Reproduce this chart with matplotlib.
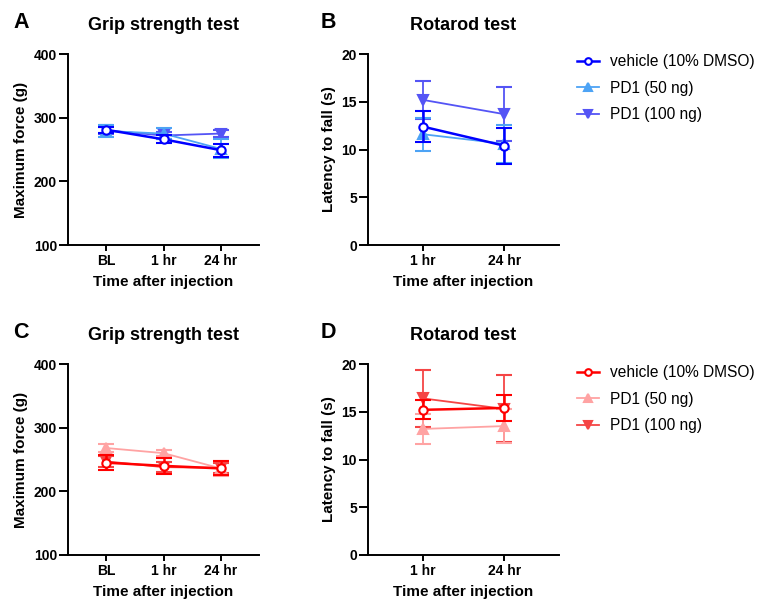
import numpy as np
import matplotlib
matplotlib.use("Agg")
import matplotlib.pyplot as plt

plt.rcParams['font.family'] = ['Liberation Sans', 'DejaVu Sans']

# categories
grip_times = ['BL', '1 hr', '24 hr']
rota_times = ['1 hr', '24 hr']
group_names = ['vehicle (10% DMSO)', 'PD1 (50 ng)', 'PD1 (100 ng)']

# panel A - grip strength (blue)
grip_blue_mean = [[281, 266, 249], [279, 275, 251], [280, 272, 275]]
grip_blue_err = [[5, 6, 10], [9, 9, 15], [5, 5, 6]]

# panel B - rotarod (blue)
rota_blue_mean = [[12.4, 10.4], [11.6, 10.6], [15.2, 13.7]]
rota_blue_err = [[1.65, 1.9], [1.75, 2.0], [2.0, 2.8]]

# panel C - grip strength (red)
grip_red_mean = [[245, 240, 236], [268, 260, 236], [247, 238, 237]]
grip_red_err = [[12, 12, 11], [7, 5, 12], [8, 8, 8]]

# panel D - rotarod (red)
rota_red_mean = [[15.2, 15.4], [13.2, 13.5], [16.4, 15.3]]
rota_red_err = [[1.0, 1.35], [1.6, 1.8], [3.0, 3.5]]

blues = ['#0000FF', '#4DA3F5', '#5454F5']
reds = ['#FF0000', '#FFA3A3', '#F54545']
markers = ['o', '^', 'v']

W, H = 757, 606
fig = plt.figure(figsize=(W / 100, H / 100), dpi=100)


def px_axes(left, top, right, bottom):
    return fig.add_axes([left / W, 1 - bottom / H, (right - left) / W, (bottom - top) / H])


def draw_panel(ax, cats, means, errs, colors, ylim, yticks, title, ylabel, legend_top=None):
    x = np.arange(len(cats))
    handles = [None] * 3
    for i in [2, 1, 0]:
        lw = 1.8 if i == 0 else 1.3
        mfc = 'white' if i == 0 else colors[i]
        ms = 6 if i == 0 else 6.5
        h = ax.errorbar(x, means[i], yerr=errs[i], color=colors[i], marker=markers[i],
                        markersize=ms, markerfacecolor=mfc, markeredgecolor=colors[i],
                        markeredgewidth=1.5, linewidth=lw, elinewidth=lw, capsize=5.5,
                        capthick=lw, zorder=3 + (2 - i), clip_on=False)
        handles[i] = h[0]
    ax.set_xlim(-0.67, len(cats) - 1 + 0.67)
    ax.set_ylim(*ylim)
    ax.set_yticks(yticks)
    ax.set_xticks(x)
    ax.set_xticklabels(cats)
    ax.spines['top'].set_visible(False)
    ax.spines['right'].set_visible(False)
    for s in ['left', 'bottom']:
        ax.spines[s].set_linewidth(1.4)
    ax.tick_params(axis='y', length=6.5, width=1.4, pad=1.5, labelsize=10)
    ax.tick_params(axis='x', length=4.5, width=1.4, pad=2, labelsize=10)
    for lab in ax.get_xticklabels() + ax.get_yticklabels():
        lab.set_fontweight('bold')
    ax.set_title(title, fontsize=13, fontweight='bold', pad=17)
    ax.set_ylabel(ylabel, fontsize=11, fontweight='bold', labelpad=4)
    ax.set_xlabel('Time after injection', fontsize=11, fontweight='bold', labelpad=5)
    if legend_top is not None:
        ax.legend(handles, group_names, loc='upper left',
                  bbox_to_anchor=(577 / W, 1 - legend_top / H),
                  bbox_transform=fig.transFigure, frameon=False, fontsize=11.2, borderpad=0,
                  borderaxespad=0, handlelength=1.4, handletextpad=0.75, labelspacing=0.74,
                  markerscale=0.8)


axA = px_axes(68, 54, 259, 245)
axB = px_axes(368, 54, 559, 245)
axC = px_axes(68, 364, 259, 555)
axD = px_axes(368, 364, 559, 555)

draw_panel(axA, grip_times, grip_blue_mean, grip_blue_err, blues, (100, 400),
           [100, 200, 300, 400], 'Grip strength test', 'Maximum force (g)')
draw_panel(axB, rota_times, rota_blue_mean, rota_blue_err, blues, (0, 20),
           [0, 5, 10, 15, 20], 'Rotarod test', 'Latency to fall (s)', legend_top=54)
draw_panel(axC, grip_times, grip_red_mean, grip_red_err, reds, (100, 400),
           [100, 200, 300, 400], 'Grip strength test', 'Maximum force (g)')
draw_panel(axD, rota_times, rota_red_mean, rota_red_err, reds, (0, 20),
           [0, 5, 10, 15, 20], 'Rotarod test', 'Latency to fall (s)', legend_top=365)

for letter, (lx, ly) in zip('ABCD', [(13, 28), (321, 28), (13, 338), (321, 338)]):
    fig.text(lx / W, 1 - ly / H, letter, fontsize=15.5, fontweight='bold', va='baseline')

fig.savefig('out.png', dpi=100)
